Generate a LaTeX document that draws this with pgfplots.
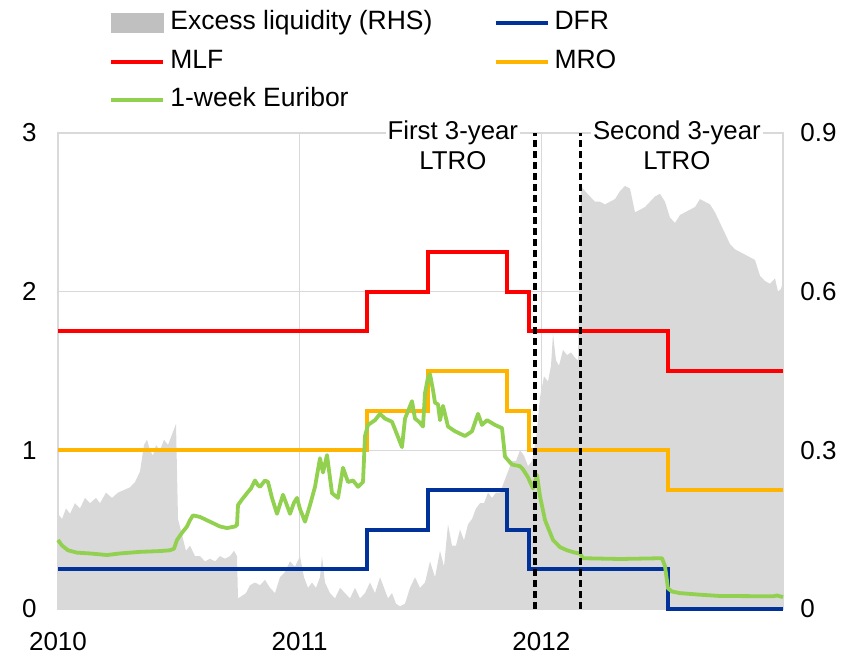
\documentclass[border=0pt]{standalone}
\usepackage{pgfplots}
\pgfplotsset{compat=1.18}
\usepackage{fontspec}
\setmainfont{Liberation Sans}
\definecolor{mlf}{HTML}{FF0000}
\definecolor{mro}{HTML}{FFB400}
\definecolor{dfr}{HTML}{003299}
\definecolor{eur}{HTML}{92D050}
\definecolor{exl}{HTML}{D9D9D9}
\definecolor{exleg}{HTML}{C0C0C0}
\definecolor{gridc}{HTML}{D9D9D9}
\begin{document}
\begin{tikzpicture}
\pgfplotsset{
  base/.style={scale only axis, width=362.5pt, height=238pt, xmin=2010, xmax=2013,
    major tick length=0pt,
    tick label style={font=\fontsize{13}{15}\selectfont},
    /pgf/number format/assume math mode=true, /pgf/number format/1000 sep={}},
}
% Right axis: excess liquidity
\begin{axis}[base, ymin=0, ymax=0.9, axis y line*=right, axis x line=none,
  ytick={0,0.3,0.6,0.9}, y axis line style={draw=none},
  yticklabel style={anchor=west, inner sep=0pt, xshift=8.5pt,
    /pgf/number format/fixed, /pgf/number format/precision=1}]
\addplot[fill=exl, draw=none] coordinates {
(2010.0000,0.18) (2010.0166,0.17) (2010.0331,0.19) (2010.0497,0.18) (2010.0703,0.20)
(2010.0910,0.19) (2010.1117,0.21) (2010.1324,0.20) (2010.1572,0.21) (2010.1738,0.20)
(2010.1986,0.22) (2010.2234,0.21) (2010.2483,0.22) (2010.2731,0.225) (2010.2979,0.23)
(2010.3186,0.24) (2010.3393,0.26) (2010.3559,0.31) (2010.3683,0.32) (2010.3807,0.30)
(2010.3931,0.29) (2010.4055,0.31) (2010.4221,0.30) (2010.4386,0.32) (2010.4552,0.31)
(2010.4717,0.33) (2010.4883,0.35) (2010.4966,0.17) (2010.5131,0.14) (2010.5297,0.11)
(2010.5462,0.12) (2010.5669,0.10) (2010.5876,0.10) (2010.6083,0.09) (2010.6290,0.095)
(2010.6497,0.09) (2010.6703,0.10) (2010.6910,0.095) (2010.7117,0.10) (2010.7283,0.11)
(2010.7407,0.10) (2010.7448,0.02) (2010.7614,0.025) (2010.7779,0.03) (2010.7945,0.045)
(2010.8152,0.05) (2010.8359,0.045) (2010.8566,0.055) (2010.8772,0.04) (2010.8979,0.03)
(2010.9186,0.06) (2010.9393,0.07) (2010.9600,0.09) (2010.9807,0.08) (2011.0014,0.10)
(2011.0179,0.06) (2011.0345,0.04) (2011.0510,0.05) (2011.0676,0.04) (2011.0841,0.06)
(2011.0924,0.10) (2011.1048,0.05) (2011.1255,0.03) (2011.1462,0.02) (2011.1669,0.04)
(2011.1876,0.03) (2011.2083,0.02) (2011.2290,0.04) (2011.2496,0.02) (2011.2703,0.03)
(2011.2910,0.05) (2011.3117,0.03) (2011.3324,0.06) (2011.3490,0.04) (2011.3655,0.02)
(2011.3821,0.03) (2011.3986,0.01) (2011.4152,0.005) (2011.4359,0.01) (2011.4565,0.04)
(2011.4772,0.06) (2011.4979,0.04) (2011.5186,0.05) (2011.5393,0.09) (2011.5600,0.06)
(2011.5807,0.11) (2011.5972,0.08) (2011.6138,0.16) (2011.6303,0.12) (2011.6469,0.12)
(2011.6634,0.15) (2011.6800,0.13) (2011.6965,0.16) (2011.7131,0.17) (2011.7296,0.19)
(2011.7462,0.20) (2011.7627,0.20) (2011.7793,0.22) (2011.7958,0.21) (2011.8124,0.22)
(2011.8290,0.22) (2011.8455,0.24) (2011.8621,0.26) (2011.8786,0.28) (2011.8952,0.28)
(2011.9117,0.30) (2011.9283,0.29) (2011.9448,0.27) (2011.9614,0.28) (2011.9779,0.32)
(2011.9945,0.40) (2012.0110,0.44) (2012.0276,0.43) (2012.0400,0.46) (2012.0483,0.52)
(2012.0607,0.47) (2012.0731,0.46) (2012.0896,0.49) (2012.1062,0.48) (2012.1227,0.485)
(2012.1393,0.475) (2012.1517,0.47) (2012.1641,0.80) (2012.1807,0.79) (2012.2014,0.78)
(2012.2221,0.77) (2012.2427,0.77) (2012.2634,0.765) (2012.2841,0.77) (2012.3048,0.775)
(2012.3255,0.79) (2012.3462,0.80) (2012.3669,0.795) (2012.3876,0.75) (2012.4083,0.755)
(2012.4290,0.76) (2012.4496,0.77) (2012.4703,0.78) (2012.4910,0.785) (2012.5117,0.77)
(2012.5324,0.74) (2012.5531,0.73) (2012.5738,0.745) (2012.5945,0.75) (2012.6152,0.755)
(2012.6359,0.76) (2012.6565,0.775) (2012.6772,0.77) (2012.6979,0.765) (2012.7186,0.75)
(2012.7393,0.73) (2012.7600,0.71) (2012.7807,0.69) (2012.8014,0.68) (2012.8221,0.675)
(2012.8428,0.67) (2012.8635,0.665) (2012.8841,0.66) (2012.9048,0.63) (2012.9255,0.62)
(2012.9462,0.615) (2012.9669,0.625) (2012.9793,0.60) (2012.9917,0.605) (2013.0000,0.62)
} \closedcycle;
\end{axis}
% Left axis: rates
\begin{axis}[base, name=main, ymin=0, ymax=3, ytick={0,1,2,3}, xtick={2010,2011,2012},
  clip=false, axis line style={gridc, line width=0.6pt},
  grid=major, grid style={gridc, line width=0.5pt},
  yticklabel style={anchor=east, inner sep=0pt, xshift=-10.5pt},
  xticklabel style={anchor=north, inner sep=0pt, yshift=-11.3pt},
  legend columns=2, legend cell align=left,
  legend style={at={(rel axis cs:0,1)}, anchor=north west, xshift=22.5pt, yshift=63.8pt,
    draw=none, fill=none, font=\fontsize{13.25}{15}\selectfont,
    nodes={inner sep=0pt, text height=10pt, text depth=3.5pt},
    row sep=5.75pt,
    /tikz/every odd column/.style={column sep=2.5pt},
    /tikz/every even column/.style={column sep=30.5pt}},
  legend image code/.code={\draw[#1] (0pt,0pt) -- (26pt,0pt);},
]
\addlegendimage{legend image code/.code={\fill[exleg] (0pt,-4.75pt) rectangle (26pt,4.75pt);}}
\addlegendentry{Excess liquidity (RHS)}
\addplot[dfr, line width=2pt, const plot] coordinates {
(2010,0.25) (2011.279,0.5) (2011.529,0.75) (2011.858,0.5) (2011.950,0.25) (2012.525,0.0) (2013,0.0)};
\addlegendentry{DFR}
\addplot[mlf, line width=2pt, const plot] coordinates {
(2010,1.75) (2011.279,2.0) (2011.529,2.25) (2011.858,2.0) (2011.950,1.75) (2012.525,1.5) (2013,1.5)};
\addlegendentry{MLF}
\addplot[mro, line width=2pt, const plot] coordinates {
(2010,1.0) (2011.279,1.25) (2011.529,1.5) (2011.858,1.25) (2011.950,1.0) (2012.525,0.75) (2013,0.75)};
\addlegendentry{MRO}
\addplot[eur, line width=1.9pt, line join=round] coordinates {
(2010.0000,0.435) (2010.0166,0.40) (2010.0414,0.37) (2010.0786,0.355) (2010.1324,0.35)
(2010.2028,0.34) (2010.2566,0.35) (2010.3393,0.36) (2010.4221,0.365) (2010.4635,0.37)
(2010.4800,0.38) (2010.4924,0.435) (2010.5131,0.48) (2010.5338,0.52) (2010.5462,0.56)
(2010.5586,0.59) (2010.5876,0.58) (2010.6290,0.55) (2010.6703,0.52) (2010.6993,0.51)
(2010.7324,0.52) (2010.7407,0.53) (2010.7448,0.655) (2010.7614,0.69) (2010.7821,0.73)
(2010.7986,0.76) (2010.8152,0.81) (2010.8276,0.78) (2010.8359,0.77) (2010.8566,0.81)
(2010.8690,0.80) (2010.8855,0.70) (2010.9062,0.60) (2010.9310,0.72) (2010.9434,0.67)
(2010.9600,0.60) (2010.9766,0.67) (2010.9890,0.70) (2011.0014,0.63) (2011.0221,0.55)
(2011.0428,0.655) (2011.0635,0.77) (2011.0841,0.95) (2011.0966,0.86) (2011.1131,0.97)
(2011.1338,0.73) (2011.1586,0.70) (2011.1793,0.89) (2011.2000,0.80) (2011.2207,0.81)
(2011.2414,0.77) (2011.2621,0.80) (2011.2703,1.09) (2011.2828,1.16) (2011.3117,1.19)
(2011.3324,1.23) (2011.3531,1.20) (2011.3821,1.18) (2011.4028,1.10) (2011.4234,1.02)
(2011.4359,1.20) (2011.4648,1.31) (2011.4772,1.20) (2011.4938,1.18) (2011.5103,1.15)
(2011.5186,1.36) (2011.5310,1.46) (2011.5393,1.48) (2011.5517,1.38) (2011.5600,1.30)
(2011.5724,1.29) (2011.5807,1.19) (2011.5931,1.28) (2011.6138,1.15) (2011.6428,1.12)
(2011.6841,1.09) (2011.7131,1.12) (2011.7379,1.23) (2011.7545,1.16) (2011.7752,1.19)
(2011.8083,1.16) (2011.8372,1.14) (2011.8496,0.96) (2011.8786,0.91) (2011.9117,0.90)
(2011.9241,0.88) (2011.9448,0.83) (2011.9655,0.76) (2011.9821,0.845) (2011.9945,0.71)
(2012.0152,0.56) (2012.0483,0.435) (2012.0772,0.39) (2012.1062,0.37) (2012.1393,0.355)
(2012.1600,0.35) (2012.1724,0.32) (2012.3255,0.315) (2012.4993,0.32) (2012.5117,0.27)
(2012.5241,0.13) (2012.5407,0.11) (2012.5738,0.10) (2012.6565,0.09) (2012.7393,0.082)
(2012.9586,0.08) (2012.9752,0.085) (2013.0000,0.075)};
\addlegendentry{1-week Euribor}
\addplot[black, line width=1.8pt, dash pattern=on 3.5pt off 2pt, forget plot] coordinates {(2011.974,0) (2011.974,3)};
\addplot[black, line width=1.8pt, dash pattern=on 3.5pt off 2pt, forget plot] coordinates {(2012.162,0) (2012.162,3)};
\node[fill=white, inner sep=1pt, align=center, font=\fontsize{12.9}{15}\selectfont] at (axis cs:2011.634,2.924) {First 3-year\\LTRO};
\node[fill=white, inner sep=1pt, align=center, font=\fontsize{12.9}{15}\selectfont] at (axis cs:2012.561,2.924) {Second 3-year\\LTRO};
\end{axis}
\path ([shift={(-29pt,-25pt)}]main.south west) rectangle ([shift={(36.5pt,66.5pt)}]main.north east);
\end{tikzpicture}
\end{document}
